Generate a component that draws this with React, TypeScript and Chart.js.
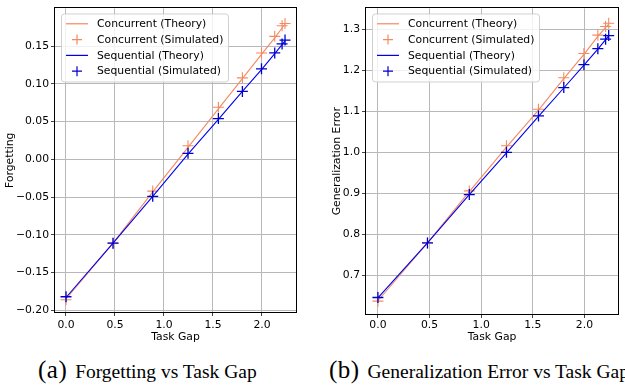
import React, { useEffect, useRef } from 'react';
import { Chart, registerables } from 'chart.js';

Chart.register(...registerables);

// ---------------- data ----------------
const taskGap = [0, 0.48, 0.885, 1.245, 1.555, 1.8, 1.995, 2.13, 2.205, 2.235];

const forgetConcTheory = [-0.185, -0.111, -0.043, 0.016, 0.067, 0.107, 0.139, 0.161, 0.174, 0.179];
const forgetConcSim = [-0.186, -0.111, -0.042, 0.018, 0.069, 0.108, 0.141, 0.163, 0.177, 0.18];
const forgetSeqTheory = [-0.183, -0.111, -0.049, 0.007, 0.053, 0.09, 0.119, 0.14, 0.152, 0.157];
const forgetSeqSim = [-0.182, -0.111, -0.049, 0.008, 0.054, 0.09, 0.12, 0.141, 0.153, 0.158];

const genConcTheory = [0.638, 0.779, 0.904, 1.013, 1.103, 1.18, 1.239, 1.283, 1.305, 1.313];
const genConcSim = [0.637, 0.779, 0.906, 1.016, 1.105, 1.182, 1.241, 1.286, 1.307, 1.315];
const genSeqTheory = [0.645, 0.779, 0.897, 0.999, 1.088, 1.157, 1.213, 1.252, 1.275, 1.284];
const genSeqSim = [0.646, 0.779, 0.897, 1.0, 1.089, 1.158, 1.214, 1.253, 1.276, 1.285];

const xTicks = [0, 0.5, 1.0, 1.5, 2.0];
const forgetTicks = [-0.2, -0.15, -0.1, -0.05, 0.0, 0.05, 0.1, 0.15];
const genTicks = [0.7, 0.8, 0.9, 1.0, 1.1, 1.2, 1.3];

const seriesLabels = [
  'Concurrent (Theory)',
  'Concurrent (Simulated)',
  'Sequential (Theory)',
  'Sequential (Simulated)',
];

const ORANGE = '#f4895f';
const BLUE = '#0000ee';
const BLUE_MARK = '#0000cc';
const FONT = 'DejaVu Sans';
const FS = 10.8;

function xy(xs: number[], ys: number[]) {
  return xs.map((x, i) => ({ x, y: ys[i] }));
}

function fmt(v: number, d: number) {
  if (Math.abs(v) < 1e-9) return (0).toFixed(d);
  const s = Math.abs(v).toFixed(d);
  return v < 0 ? '\u2212' + s : s;
}

const legendPlugin = {
  id: 'mplLegend',
  afterDraw(chart: any) {
    const { ctx, chartArea } = chart;
    const x0 = chartArea.left + 6;
    const y0 = chartArea.top + 5;
    const w = 167;
    const h = 68;
    ctx.save();
    ctx.beginPath();
    (ctx as any).roundRect(x0 + 0.5, y0 + 0.5, w, h, 3);
    ctx.fillStyle = 'rgba(255,255,255,0.8)';
    ctx.fill();
    ctx.strokeStyle = '#d0d0d0';
    ctx.lineWidth = 1;
    ctx.stroke();
    ctx.font = `${FS}px "${FONT}"`;
    ctx.textBaseline = 'middle';
    ctx.textAlign = 'left';
    seriesLabels.forEach((label, i) => {
      const cy = y0 + 10.3 + i * 15.8;
      const color = i < 2 ? ORANGE : i === 3 ? BLUE_MARK : BLUE;
      ctx.strokeStyle = color;
      ctx.lineWidth = 1.2;
      ctx.beginPath();
      if (i % 2 === 0) {
        ctx.moveTo(x0 + 5, cy);
        ctx.lineTo(x0 + 27, cy);
      } else {
        const cx = x0 + 16;
        ctx.moveTo(cx - 5, cy);
        ctx.lineTo(cx + 5, cy);
        ctx.moveTo(cx, cy - 5);
        ctx.lineTo(cx, cy + 5);
      }
      ctx.stroke();
      ctx.fillStyle = '#000';
      ctx.fillText(label, x0 + 36, cy + 0.5);
    });
    ctx.restore();
  },
};

const framePlugin = {
  id: 'mplFrame',
  afterDatasetsDraw(chart: any) {
    const { ctx, chartArea } = chart;
    const l = Math.round(chartArea.left) - 0.5;
    const t = Math.round(chartArea.top) - 0.5;
    const r = Math.round(chartArea.right) + 0.5;
    const b = Math.round(chartArea.bottom) + 0.5;
    ctx.save();
    ctx.strokeStyle = '#000';
    ctx.lineWidth = 1;
    ctx.strokeRect(l, t, r - l, b - t);
    ctx.restore();
  },
};

interface PanelProps {
  concTheory: number[];
  concSim: number[];
  seqTheory: number[];
  seqSim: number[];
  yTicks: number[];
  yDec: number;
  yMin: number;
  yMax: number;
  xMin: number;
  xMax: number;
  yTitle: string;
  yAxisWidth: number;
  yTitlePad: number;
  rightPad: number;
  xAxisHeight: number;
  xTickPad: number;
  width: number;
  height: number;
}

function Panel(p: PanelProps) {
  const ref = useRef<HTMLCanvasElement>(null);
  useEffect(() => {
    if (!ref.current) return;
    const tickFont = { family: FONT, size: FS };
    const gridCfg = {
      color: '#b8b8b8',
      lineWidth: 1,
      drawTicks: true,
      tickLength: 4,
      tickColor: '#444',
    };
    const chart = new Chart(ref.current, {
      type: 'line',
      data: {
        datasets: [
          {
            label: seriesLabels[0],
            data: xy(taskGap, p.concTheory),
            borderColor: ORANGE,
            backgroundColor: ORANGE,
            borderWidth: 1.1,
            pointRadius: 0,
            showLine: true,
            order: 4,
          },
          {
            label: seriesLabels[1],
            data: xy(taskGap, p.concSim),
            borderColor: ORANGE,
            backgroundColor: ORANGE,
            showLine: false,
            pointStyle: 'cross',
            pointRadius: 5.5,
            pointBorderWidth: 1.1,
            order: 3,
          },
          {
            label: seriesLabels[2],
            data: xy(taskGap, p.seqTheory),
            borderColor: BLUE,
            backgroundColor: BLUE,
            borderWidth: 1.1,
            pointRadius: 0,
            showLine: true,
            order: 2,
          },
          {
            label: seriesLabels[3],
            data: xy(taskGap, p.seqSim),
            borderColor: BLUE_MARK,
            backgroundColor: BLUE_MARK,
            showLine: false,
            pointStyle: 'cross',
            pointRadius: 5.5,
            pointBorderWidth: 1.3,
            order: 1,
          },
        ],
      },
      options: {
        animation: false,
        responsive: false,
        maintainAspectRatio: false,
        layout: { padding: { left: 0, top: 8, right: p.rightPad, bottom: 0 } },
        scales: {
          x: {
            type: 'linear',
            min: p.xMin,
            max: p.xMax,
            afterBuildTicks: (s: any) => {
              s.ticks = xTicks.map((v) => ({ value: v }));
            },
            afterFit: (s: any) => {
              s.height = p.xAxisHeight;
            },
            ticks: {
              font: tickFont,
              color: '#000',
              padding: p.xTickPad,
              maxRotation: 0,
              autoSkip: false,
              callback: (v: any) => fmt(Number(v), 1),
            },
            grid: gridCfg,
            border: { display: false },
            title: {
              display: true,
              text: 'Task Gap',
              font: tickFont,
              color: '#000',
              padding: { top: 0, bottom: 1.5 },
            },
          },
          y: {
            type: 'linear',
            min: p.yMin,
            max: p.yMax,
            afterBuildTicks: (s: any) => {
              s.ticks = p.yTicks.map((v) => ({ value: v }));
            },
            afterFit: (s: any) => {
              s.width = p.yAxisWidth;
            },
            ticks: {
              font: tickFont,
              color: '#000',
              padding: 2,
              autoSkip: false,
              callback: (v: any) => fmt(Number(v), p.yDec),
            },
            grid: gridCfg,
            border: { display: false },
            title: {
              display: true,
              text: p.yTitle,
              font: tickFont,
              color: '#000',
              padding: { top: p.yTitlePad, bottom: 0 },
            },
          },
        },
        plugins: {
          legend: { display: false },
          tooltip: { enabled: false },
        },
      },
      plugins: [framePlugin, legendPlugin],
    } as any);
    return () => chart.destroy();
  }, []);
  return <canvas ref={ref} width={p.width} height={p.height} style={{ display: 'block', width: p.width, height: p.height }} />;
}

const captionStyle: React.CSSProperties = {
  position: 'absolute',
  top: 355,
  fontFamily: '"Liberation Serif", "Times New Roman", serif',
  fontSize: 19.5,
  lineHeight: '30px',
  whiteSpace: 'nowrap',
  color: '#000',
};

const labelStyle: React.CSSProperties = {
  fontSize: 25,
  letterSpacing: 0.5,
  marginRight: 3,
};

export default function App() {
  return (
    <div
      style={{
        position: 'absolute',
        left: 0,
        top: 0,
        width: 625,
        height: 388,
        background: '#fff',
        overflow: 'hidden',
      }}
    >
      <div style={{ position: 'absolute', left: 0, top: 0 }}>
        <Panel
          concTheory={forgetConcTheory}
          concSim={forgetConcSim}
          seqTheory={forgetSeqTheory}
          seqSim={forgetSeqSim}
          yTicks={forgetTicks}
          yDec={2}
          yMin={-0.2022}
          yMax={0.1999}
          xMin={-0.1122}
          xMax={2.347}
          yTitle="Forgetting"
          yAxisWidth={55}
          yTitlePad={4}
          rightPad={14}
          xAxisHeight={33}
          xTickPad={3}
          width={310}
          height={345}
        />
      </div>
      <div style={{ position: 'absolute', left: 310, top: 0 }}>
        <Panel
          concTheory={genConcTheory}
          concSim={genConcSim}
          seqTheory={genSeqTheory}
          seqSim={genSeqSim}
          yTicks={genTicks}
          yDec={1}
          yMin={0.6057}
          yMax={1.351}
          xMin={-0.1154}
          xMax={2.327}
          yTitle="Generalization Error"
          yAxisWidth={56}
          yTitlePad={20.5}
          rightPad={5}
          xAxisHeight={31}
          xTickPad={1}
          width={315}
          height={345}
        />
      </div>
      <div style={{ ...captionStyle, left: 38 }}>
        <span style={labelStyle}>(a)</span> Forgetting vs Task Gap
      </div>
      <div style={{ ...captionStyle, left: 329 }}>
        <span style={labelStyle}>(b)</span> Generalization Error vs Task Gap
      </div>
    </div>
  );
}
